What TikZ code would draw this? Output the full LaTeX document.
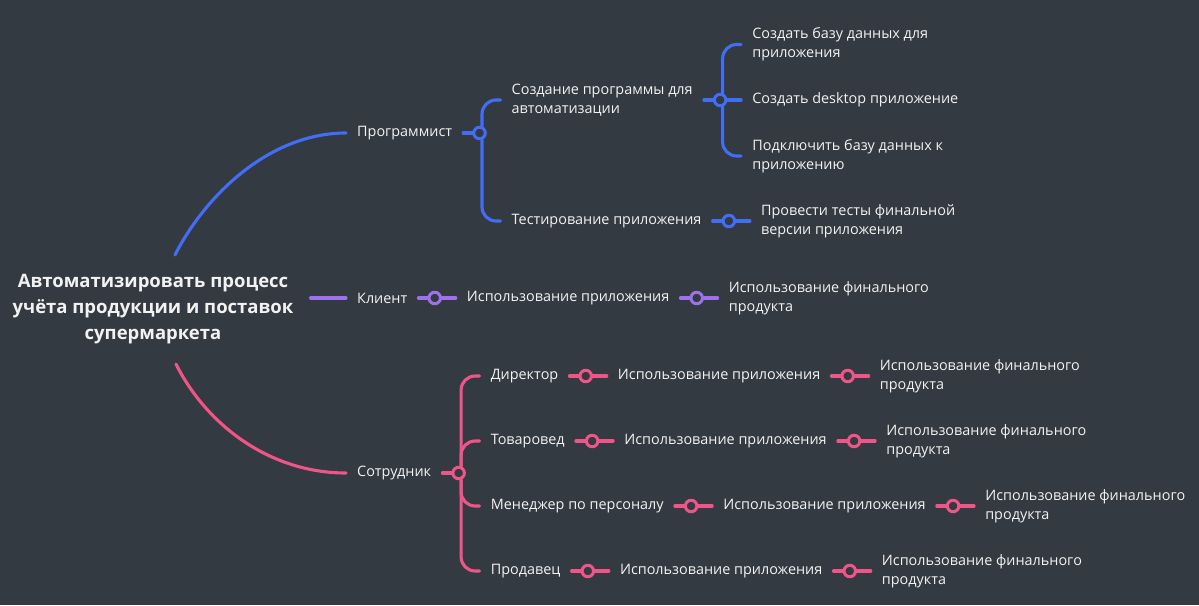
\documentclass[tikz,border=0pt]{standalone}
\usepackage{fontspec}
\setmainfont{Open Sans}
\usetikzlibrary{positioning}
\definecolor{bg}{HTML}{343A41}
\definecolor{fg}{HTML}{F2F2F2}
\definecolor{cblue}{HTML}{426EF5}
\definecolor{cviolet}{HTML}{9B72E8}
\definecolor{cpink}{HTML}{F0558A}
\tikzset{
	topic/.style={text=fg,font=\fontsize{14.4}{19}\selectfont,align=left,anchor=west,inner xsep=11pt,inner ysep=2pt},
	root/.style={text=fg,font=\bfseries\fontsize{18.5}{26}\selectfont,align=center,inner xsep=17pt,inner ysep=19.5pt},
	knob/.style={circle,draw=#1,fill=bg,line width=3pt,minimum size=11.5pt,inner sep=0pt},
	link/.style={draw=#1,line width=3.1pt,line cap=round},
	bend/.style={link=#1,rounded corners=14pt},
}
\begin{document}
\begin{tikzpicture}[x=1pt,y=-1pt,line join=round]
			\def \w{1199}
			\def \h{605}
			\useasboundingbox (0,0) rectangle (\w,\h);
			\fill[bg] (0,0) rectangle (\w,\h);
			\node[root] (root) at (153,309.5) {Автоматизировать процесс\\учёта продукции и поставок\\супермаркета};
			\node[topic] (prog) at (346,133) {Программист};
			\node[topic] (client) at (346,298) {Клиент};
			\node[topic] (staff) at (346,473) {Сотрудник};
			\draw[link=cblue] ([xshift=22pt]root.north) .. controls +(30,-59) and +(-77,0) .. (prog.west);
			\draw[link=cviolet] (root.east |- client.west) -- (client.west);
			\draw[link=cpink] ([xshift=23pt]root.south) .. controls +(30,60) and +(-77,0) .. (staff.west);
			% Программист
			\node[knob=cblue,right=9pt of prog] (kp) {};
			\node[topic,right=21pt of kp.center,yshift=33pt] (make) {Создание программы для\\автоматизации};
			\node[topic,right=21pt of kp.center,yshift=-88pt] (test) {Тестирование приложения};
			\node[knob=cblue,right=9pt of make] (km) {};
			\node[topic,right=21pt of km.center,yshift=55.5pt] (db) {Создать базу данных для\\приложения};
			\node[topic,right=21pt of km.center] (desk) {Создать desktop приложение};
			\node[topic,right=21pt of km.center,yshift=-56pt] (conn) {Подключить базу данных к\\приложению};
			\node[knob=cblue,right=9pt of test] (kt) {};
			\node[topic,right=21pt of kt.center] (final) {Провести тесты финальной\\версии приложения};
			\draw[link=cblue] (prog) -- (kp);
			\draw[bend=cblue] (kp.70) |- (make);
			\draw[bend=cblue] (kp.-70) |- (test);
			\draw[link=cblue] (make.east |- km) -- (km);
			\draw[bend=cblue] (km.70) |- (db);
			\draw[link=cblue] (km) -- (desk);
			\draw[bend=cblue] (km.-70) |- (conn);
			\draw[link=cblue] (test) -- (kt);
			\draw[link=cblue] (kt) -- (final);
			% Клиент
			\node[knob=cviolet,right=9pt of client] (kc) {};
			\node[topic,right=21pt of kc.center] (cuse) {Использование приложения};
			\node[knob=cviolet,right=9pt of cuse] (kc2) {};
			\node[topic,right=21pt of kc2.center] (cfin) {Использование финального\\продукта};
			\draw[link=cviolet] (client) -- (kc);
			\draw[link=cviolet] (kc) -- (cuse);
			\draw[link=cviolet] (cuse) -- (kc2);
			\draw[link=cviolet] (kc2) -- (cfin);
			% Сотрудник
			\node[knob=cpink,right=9pt of staff] (ks) {};
			\draw[link=cpink] (staff) -- (ks);
			\foreach \i/\dy/\a/\role in {1/97/70/Директор,2/32/70/Товаровед,3/-33/-70/Менеджер по персоналу,4/-98/-70/Продавец}{
				\node[topic,right=21pt of ks.center,yshift=\dy pt] (s\i) {\role};
				\node[knob=cpink,right=9pt of s\i] (sa\i) {};
				\node[topic,right=21pt of sa\i.center] (su\i) {Использование приложения};
				\node[knob=cpink,right=9pt of su\i] (sb\i) {};
				\node[topic,right=21pt of sb\i.center] (sf\i) {Использование финального\\продукта};
				\draw[bend=cpink] (ks.\a) |- (s\i);
				\draw[link=cpink] (s\i) -- (sa\i);
				\draw[link=cpink] (sa\i) -- (su\i);
				\draw[link=cpink] (su\i) -- (sb\i);
				\draw[link=cpink] (sb\i) -- (sf\i);
			}
	\end{tikzpicture}
\end{document}
